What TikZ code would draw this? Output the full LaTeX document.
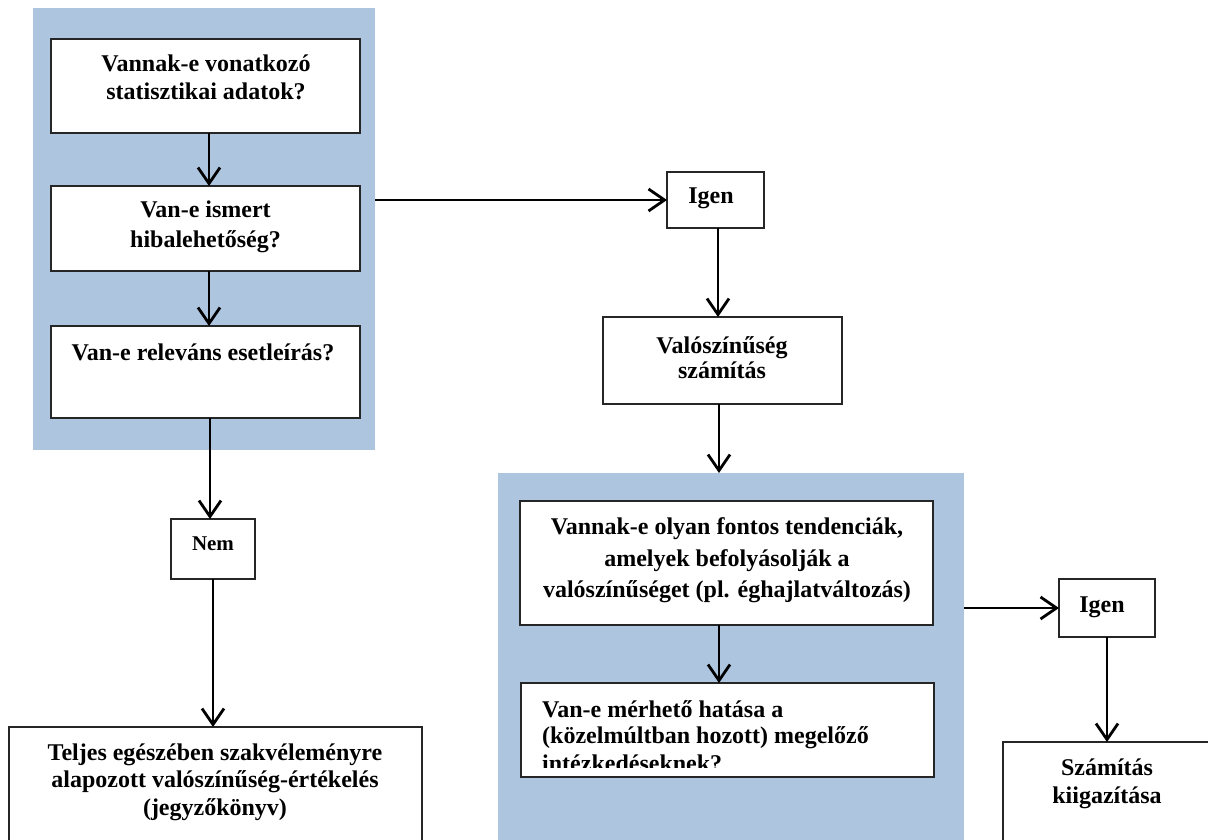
\documentclass[tikz,border=0pt]{standalone}
\usepackage{fontspec}
\setmainfont{Liberation Serif}
\usetikzlibrary{arrows.meta}
\definecolor{panelblue}{RGB}{174,197,224}
\tikzset{
  panel/.style={fill=panelblue, draw=none, inner sep=0pt, outer sep=0pt},
  box/.style={draw=black!85, line width=1.6pt, fill=white, inner sep=0pt, outer sep=0pt},
  txt/.style={font=\fontsize{24}{28}\selectfont\bfseries, inner sep=0pt, anchor=base},
  smalltxt/.style={font=\fontsize{21}{25}\selectfont\bfseries, inner sep=0pt, anchor=base},
  flow/.style={line width=2.8pt, -{Straight Barb[length=16pt,width=22pt]}}
}
\begin{document}
\begin{tikzpicture}[x=1pt,y=-1pt]
\useasboundingbox (0,0) rectangle (1208,840);
\clip (0,0) rectangle (1208,840);
\fill[white] (0,0) rectangle (1208,840);

% panels
\node[panel, minimum width=342pt, minimum height=442pt] (panelL) at (204,229) {};
\node[panel, minimum width=466pt, minimum height=387pt] (panelR) at (731,666.5) {};

% boxes
\node[box, minimum width=309pt, minimum height=94pt] (b1) at (205.5,86) {};
\node[box, minimum width=309pt, minimum height=85pt] (b2) at (205.5,228.5) {};
\node[box, minimum width=309pt, minimum height=92pt] (b3) at (205.5,372) {};
\node[box, minimum width=84pt, minimum height=60pt] (nem) at (213,549) {};
\node[box, minimum width=413pt, minimum height=133pt] (bl) at (215.5,793.5) {};
\node[box, minimum width=97pt, minimum height=56pt] (igen1) at (715.5,200) {};
\node[box, minimum width=239pt, minimum height=87pt] (val) at (722.5,360.5) {};
\node[box, minimum width=413pt, minimum height=124pt] (bA) at (726.5,563) {};
\node[box, minimum width=413pt, minimum height=94pt] (bB) at (727.5,730) {};
\node[box, minimum width=96pt, minimum height=58pt] (igen2) at (1107,608) {};
\node[box, minimum width=227pt, minimum height=118pt] (sz) at (1116.5,801) {};

% texts
\node[txt] (t1a) at (206,72) {Vannak-e vonatkozó};
\node[txt] (t1b) at (206,100) {statisztikai adatok?};
\node[txt] (t2a) at (205.5,218) {Van-e ismert};
\node[txt] (t2b) at (205.5,247) {hibalehetőség?};
\node[txt] (t3a) at (203,360) {Van-e releváns esetleírás?};
\node[smalltxt] (tnem) at (213,550) {Nem};
\node[txt] (tbla) at (215,760) {Teljes egészében szakvéleményre};
\node[txt] (tblb) at (215,787) {alapozott valószínűség-értékelés};
\node[txt] (tblc) at (215,815) {(jegyzőkönyv)};
\node[txt] (tig1) at (711,204) {Igen};
\node[txt] (tvala) at (722,353) {Valószínűség};
\node[txt] (tvalb) at (722,378) {számítás};
\node[txt] (tAa) at (727,534) {Vannak-e olyan fontos tendenciák,};
\node[txt] (tAb) at (727,566) {amelyek befolyásolják a};
\node[txt] (tAc) at (727,597) {valószínűséget (pl. éghajlatváltozás)};
\node[txt, anchor=base west] (tBa) at (542,717) {Van-e mérhető hatása a};
\node[txt, anchor=base west] (tBb) at (542,743) {(közelmúltban hozott) megelőző};
\begin{scope}
  \clip (521,683) rectangle (934,767.5);
  \node[txt, anchor=base west] (tBc) at (542,771) {intézkedéseknek?};
\end{scope}
\node[txt] (tig2) at (1102,612) {Igen};
\node[txt] (tsza) at (1107,775) {Számítás};
\node[txt] (tszb) at (1107,803) {kiigazítása};

% connectors
\draw[flow] ([xshift=3.5pt]b1.south) -- ([xshift=3.5pt]b2.north);
\draw[flow] ([xshift=3.5pt]b2.south) -- ([xshift=3.5pt]b3.north);
\draw[flow] ([xshift=-3pt]nem.north |- b3.south) -- ([xshift=-3pt]nem.north);
\draw[flow] (nem.south) -- (nem.south |- bl.north);
\draw[flow] (panelL.east |- igen1.west) -- (igen1.west);
\draw[flow] ([xshift=2.5pt]igen1.south) -- ([xshift=2.5pt]igen1.south |- val.north);
\draw[flow] ([xshift=-3.5pt]val.south) -- ([xshift=-3.5pt]val.south |- panelR.north);
\draw[flow] ([xshift=-7.5pt]bA.south) -- ([xshift=-7.5pt]bA.south |- bB.north);
\draw[flow] (panelR.east |- igen2.west) -- (igen2.west);
\draw[flow] (igen2.south) -- (igen2.south |- sz.north);
\end{tikzpicture}
\end{document}
